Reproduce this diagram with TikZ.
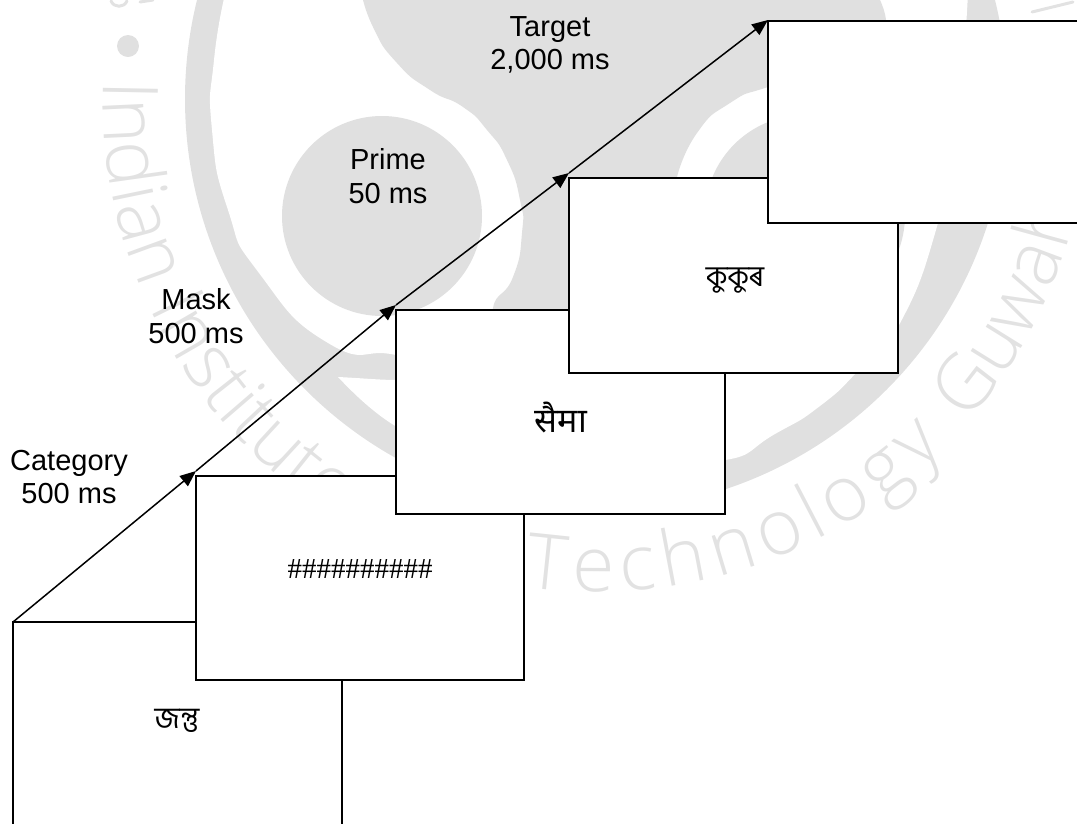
\documentclass[tikz,border=0pt]{standalone}
\usepackage{fontspec}
\usetikzlibrary{arrows.meta,decorations.text}
\setmainfont{Liberation Sans}
\newfontfamily\bnfont[Script=Bengali]{Hind Siliguri}
\newfontfamily\dvfont[Script=Devanagari]{Noto Sans}
\newfontfamily\hashfont{Liberation Serif}
\newfontfamily\wmfamily{Open Sans Light}
\definecolor{logo}{HTML}{E0E0E0}
\definecolor{wmtext}{HTML}{E2E2E2}
\newcommand{\wmstyle}{\wmfamily\fontsize{77}{77}\selectfont\color{wmtext}}
\tikzset{
  stim/.style={draw=black,fill=white,line width=1.5pt,anchor=north west,inner sep=0pt,outer sep=0pt,minimum width=329pt},
  timelabel/.style={align=center,inner sep=0pt,font=\fontsize{29}{33.5}\selectfont,text=black},
  flow/.style={draw=black,line width=1.5pt,-{Triangle[length=16pt,width=13pt]}},
  logofill/.style={fill=logo,draw=none},
  wmstroke/.style={draw=wmtext,line width=3pt,line cap=round}
}
\begin{document}
\begin{tikzpicture}[x=1pt,y=-1pt]
\useasboundingbox (0,0) rectangle (1077,823);
% watermark
\fill[logofill] (596,99) circle[radius=411];
\fill[white] plot[smooth,tension=1] coordinates {(226,-10) (214,60) (212,130) (228,210) (259,273) (328,343) (396,355) (450,370) (560,420) (670,450) (725,460) (775,434) (820,406) (860,369) (898,327) (938,223) (955,130) (964,50) (968,-10)} -- cycle;
\fill[white] (338,377) .. controls (360,378) and (380,380) .. (397,380) -- (397,427) .. controls (375,414) and (355,395) .. cycle;
\fill[logofill] plot[smooth,tension=1] coordinates {(361,-10) (373,27) (397,63) (430,90) (463,107) (487,130) (507,160) (520,200) (522,233) (513,277) (493,308) (500,340)} -- (640,340) -- plot[smooth,tension=1] coordinates {(677,177) (697,133) (730,103) (768,87) (830,70) (880,40) (886,20) (875,-10)} -- cycle;
\fill[logofill] (382,216) circle[radius=100];
\fill[logofill] (805,215) circle[radius=100];
\fill[logofill] (128,46) circle[radius=11];
\draw[wmstroke] (111,1) .. controls (114,8) and (124,8) .. (127,1);
\draw[wmstroke] (140,2) -- (153,0);
\draw[wmstroke] (1032,12) -- (1073,2);
\path[decorate,decoration={text along path,text={|\wmstyle|Indian Institute of}}] (596,99) ++(182.2:493) arc[start angle=182.2,end angle=100,radius=493];
\path[decorate,decoration={text along path,text align=fit to path,text={|\wmstyle|Technology}}] (596,99) ++(98.3:493) arc[start angle=98.3,end angle=45,radius=493];
\path[decorate,decoration={text along path,text={|\wmstyle|Guwahati}}] (596,99) ++(41:493) arc[start angle=41,end angle=-10,radius=493];
% boxes
\node[stim,minimum height=204pt] (box1) at (13,622) {};
\node[stim,minimum height=204pt,minimum width=328pt] (box2) at (196,476) {};
\node[stim,minimum height=204pt] (box3) at (396,310) {};
\node[stim,minimum height=195pt] (box4) at (569,178) {};
\node[stim,minimum height=202pt] (box5) at (768,21) {};
% connectors
\coordinate (tip2) at ([yshift=5pt]box2.north west);
\coordinate (tip3) at ([yshift=5pt]box3.north west);
\coordinate (tip4) at ([yshift=5pt]box4.north west);
\coordinate (tip5) at ([yshift=1pt]box5.north west);
\draw[flow] (box1.north west) -- (tip2);
\draw[flow] (tip2) -- (tip3);
\draw[flow] (tip3) -- (tip4);
\draw[flow] (tip4) -- (tip5);
% labels
\node[timelabel] (lab1) at (69,477) {Category\\500 ms};
\node[timelabel] (lab2) at (196,316) {Mask\\500 ms};
\node[timelabel] (lab3) at (388,176) {Prime\\50 ms};
\node[timelabel] (lab4) at (550,45) {Target\\2,000 ms};
% stimuli
\node[inner sep=0pt,font=\bnfont\fontsize{30}{30}\selectfont] (s1) at (177,721) {জন্তু};
\node[inner sep=0pt,font=\hashfont\fontsize{29}{29}\selectfont] (s2) at (360,569) {\#\#\#\#\#\#\#\#\#\#};
\node[inner sep=0pt,font=\dvfont\fontsize{34}{34}\selectfont] (s3) at (561,417) {सैमा};
\node[inner sep=0pt,font=\bnfont\fontsize{29}{29}\selectfont] (s4) at (735,281) {কুকুৰ};
\end{tikzpicture}
\end{document}
